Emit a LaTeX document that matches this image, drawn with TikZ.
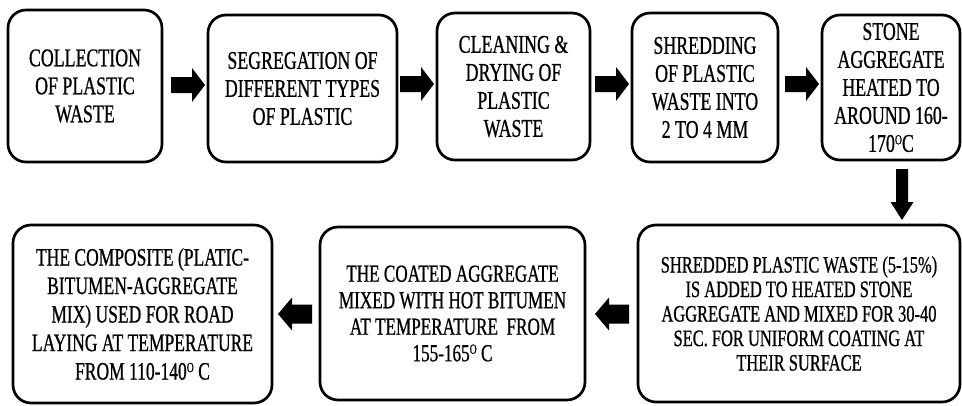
\documentclass[tikz,border=0pt]{standalone}
\usepackage{fontspec}
\setmainfont{Liberation Serif}[FakeStretch=0.70,FakeBold=0.7]
\newcommand{\degO}{\raisebox{7.5pt}{\fontsize{14}{14}\selectfont O}}
\begin{document}
\begin{tikzpicture}[x=1pt,y=-1pt,
  box/.style={draw, line width=2.7pt, rounded corners=18pt, align=center, inner sep=0pt, fill=white,
              font=\fontsize{25.5}{28}\selectfont},
  fat/.style={fill=black}]
\useasboundingbox (0,0) rectangle (962,405);
% top row
\node[box, minimum width=154, minimum height=152] (b1) at (85,86) {COLLECTION\\OF PLASTIC\\WASTE};
\node[box, minimum width=189, minimum height=147] (b2) at (302.5,88.5) {SEGREGATION OF\\DIFFERENT TYPES\\OF PLASTIC};
\node[box, minimum width=153, minimum height=147] (b3) at (513.5,86.5) {CLEANING \&\\DRYING OF\\PLASTIC\\WASTE};
\node[box, minimum width=146, minimum height=149] (b4) at (705,87.5) {SHREDDING\\OF PLASTIC\\WASTE INTO\\2 TO 4 MM};
\node[box, minimum width=138, minimum height=145] (b5) at (891,87.5) {STONE\\AGGREGATE\\HEATED TO\\AROUND 160-\\170\degO C};
% bottom row
\node[box, minimum width=322, minimum height=177, font=\fontsize{23.5}{24.5}\selectfont] (c3) at (799,313.5)
  {SHREDDED PLASTIC WASTE (5-15\%)\\IS ADDED TO HEATED STONE\\AGGREGATE AND MIXED FOR 30-40\\SEC. FOR UNIFORM COATING AT\\THEIR SURFACE};
\node[box, minimum width=265, minimum height=173, font=\fontsize{24.5}{26.5}\selectfont] (c2) at (452.5,313.5)
  {THE COATED AGGREGATE\\MIXED WITH HOT BITUMEN\\AT TEMPERATURE\ \ FROM\\155-165\degO\ C};
\node[box, minimum width=259, minimum height=178, font=\fontsize{25}{28.5}\selectfont] (c1) at (142.5,314)
  {THE COMPOSITE (PLATIC-\\BITUMEN-AGGREGATE\\MIX) USED FOR ROAD\\LAYING AT TEMPERATURE\\FROM 110-140\degO\ C};
% block arrows (right)
\coordinate (a1) at (171,85);
\coordinate (a2) at (400,84);
\coordinate (a3) at (595,84);
\coordinate (a4) at (785,84);
\foreach \a in {a1,a2,a3,a4}
  \fill[fat] (\a) ++(0,-8) -- ++(21,0) -- ++(0,-9) -- ++(13,17) -- ++(-13,17) -- ++(0,-9) -- ++(-21,0) -- cycle;
% down arrow
\coordinate (d1) at (902,169);
\fill[fat] (d1) ++(-6,0) -- ++(0,33) -- ++(-5.5,0) -- ++(11.5,18) -- ++(11.5,-18) -- ++(-5.5,0) -- ++(0,-33) -- cycle;
% left arrows (from tip)
\coordinate (l1) at (595,314);
\coordinate (l2) at (278,314);
\foreach \a in {l1,l2}
  \fill[fat] (\a) -- ++(14,-16.5) -- ++(0,7) -- ++(20,0) -- ++(0,19) -- ++(-20,0) -- ++(0,7) -- cycle;
\end{tikzpicture}
\end{document}
